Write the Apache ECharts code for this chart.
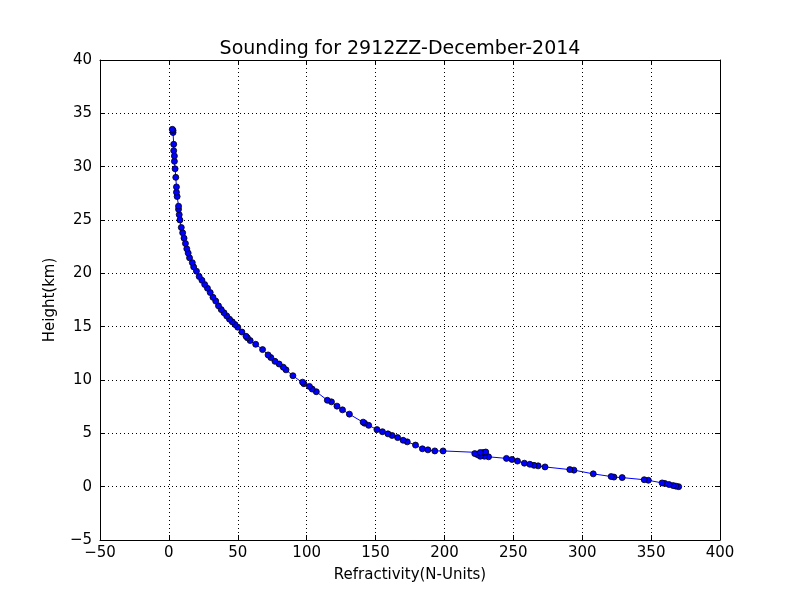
<!DOCTYPE html>
<html lang="en">
<head>
    <meta charset="UTF-8">
    <script src="https://cdn.jsdelivr.net/npm/echarts@6/dist/echarts.min.js"></script>
    <title>Sounding</title>
</head>
<body style="margin:0">
<div id="main" style="width: 800px;height:600px;"></div>
<script type="text/javascript">
    // refractivity (N-units) and height (km), bottom to top
    var refractivity = [370,368,366,363,360,358,348,345,329,323,321,308,294,291,273,268,265,262,258,253,249,245,232,229,226,224,222,228,230,226,199,193,188,184,179,173,170,166,162,159,155,151,145,142,141,131,126,122,118,115,107,104,102,98,97,90,85,83,80,77,74,72,68,63,59,57,56,53,50,48,46,44,42,40,38,36,34,32,30,28,26,24,22,20,18,17,15,14,13,12,11,10,9,8,7.5,7,7,6,5.5,5.5,5,4.5,4,4,3.5,3.5,3,3,2.5];
    var height = [0,0.05,0.1,0.2,0.3,0.35,0.6,0.65,0.85,0.9,0.95,1.2,1.55,1.6,1.85,1.95,2.0,2.1,2.2,2.4,2.55,2.65,2.8,2.85,2.85,3.0,3.1,3.2,3.25,3.2,3.35,3.35,3.45,3.55,3.9,4.2,4.35,4.6,4.8,4.95,5.15,5.35,5.75,5.95,6.05,6.8,7.2,7.55,7.95,8.1,8.9,9.15,9.4,9.65,9.8,10.4,10.95,11.2,11.5,11.75,12.1,12.35,12.85,13.35,13.7,13.95,14.1,14.5,14.95,15.2,15.45,15.7,16.0,16.3,16.6,16.95,17.4,17.75,18.2,18.6,18.95,19.35,19.7,20.2,20.6,21.0,21.45,21.9,22.3,22.8,23.3,23.8,24.3,25.0,25.5,26.0,26.3,27.2,27.6,28.1,29.0,29.8,30.5,31.0,31.5,32.1,33.2,33.4,33.5];

    var points = [];
    for (var i = 0; i < refractivity.length; i++) {
        points.push([refractivity[i], height[i]]);
    }

    var font = 'DejaVu Sans';
    var tickStyle = {show: true, inside: true, length: 5, lineStyle: {color: '#000'}};
    var lineStyle = {show: true, onZero: false, lineStyle: {color: '#000', width: 1}};
    var gridLine = {show: true, lineStyle: {color: '#000', type: [1, 3], width: 1}};
    var minus = function (v) { return String(v).replace('-', '\u2212'); };

    var myChart = echarts.init(document.getElementById('main'));
    var option = {
        backgroundColor: '#fff',
        title: {
            text: 'Sounding for 2912ZZ-December-2014',
            left: 'center', top: 35,
            textStyle: {fontFamily: font, fontSize: 19, fontWeight: 'normal', color: '#000'}
        },
        grid: {left: 100, right: 80, top: 60, bottom: 60},
        xAxis: [{
            type: 'value', min: -50, max: 400, interval: 50,
            name: 'Refractivity(N-Units)', nameLocation: 'middle', nameGap: 28,
            nameTextStyle: {fontFamily: font, fontSize: 15, color: '#000'},
            axisLine: lineStyle, axisTick: tickStyle, splitLine: gridLine,
            axisLabel: {fontFamily: font, fontSize: 15, color: '#000', margin: 6, formatter: minus}
        }, {
            type: 'value', min: -50, max: 400, interval: 50, position: 'top',
            axisLine: lineStyle, axisTick: tickStyle, splitLine: {show: false},
            axisLabel: {show: false}
        }],
        yAxis: [{
            type: 'value', min: -5, max: 40, interval: 5,
            name: 'Height(km)', nameLocation: 'middle', nameGap: 42,
            nameTextStyle: {fontFamily: font, fontSize: 15, color: '#000'},
            axisLine: lineStyle, axisTick: tickStyle, splitLine: gridLine,
            axisLabel: {fontFamily: font, fontSize: 15, color: '#000', margin: 8, formatter: minus}
        }, {
            type: 'value', min: -5, max: 40, interval: 5, position: 'right',
            axisLine: lineStyle, axisTick: tickStyle, splitLine: {show: false},
            axisLabel: {show: false}
        }],
        series: [{
            type: 'line',
            data: points,
            symbol: 'circle',
            symbolSize: 6,
            lineStyle: {color: '#0000ff', width: 1},
            itemStyle: {color: '#0000ff', borderColor: '#000', borderWidth: 0.8},
            animation: false
        }]
    };
    myChart.setOption(option);
</script>
</body>
</html>
